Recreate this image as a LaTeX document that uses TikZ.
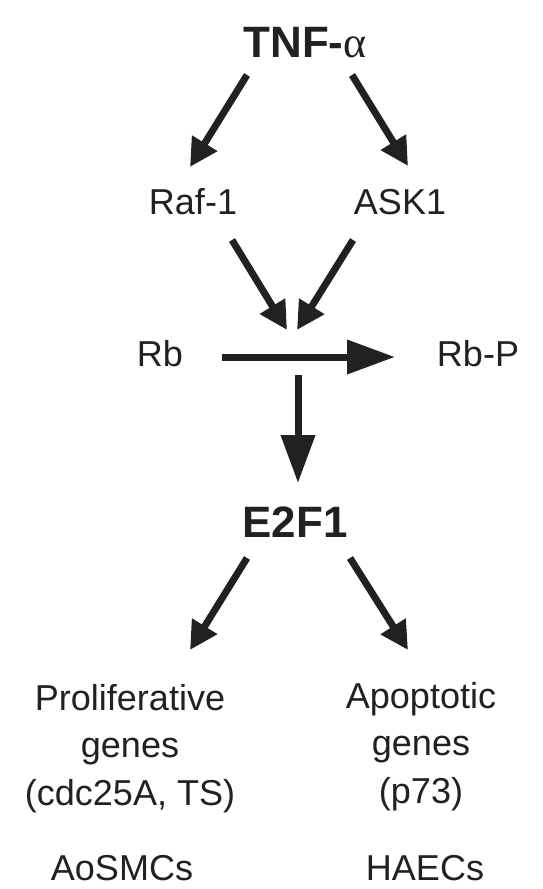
\documentclass[tikz,border=0pt]{standalone}
\usepackage{fontspec}
\setmainfont{Liberation Sans}
\newfontfamily\greekfont{Liberation Serif}
\usetikzlibrary{arrows.meta,calc}
\definecolor{ink}{gray}{0.13}

\begin{document}
\begin{tikzpicture}[x=0.02cm,y=-0.02cm,
    lbl/.style={anchor=base,inner sep=0pt,text=ink,font=\fontsize{20.5}{27}\selectfont},
    bold lbl/.style={lbl,font=\fontsize{25}{30}\selectfont\bfseries},
    genes/.style={lbl,anchor=north,align=center},
    arr/.style={draw=ink,line width=0.14cm,-{Triangle[length=0.56cm,width=0.56cm]}},
    long arr/.style={arr,-{Triangle[length=0.96cm,width=0.66cm]}}]
  \useasboundingbox (0,0) rectangle (543,889);

  \node[bold lbl] (tnf) at (305,57) {TNF-{\greekfont\mdseries α}};
  \node[lbl] (raf) at (193,214) {Raf-1};
  \node[lbl] (ask) at (400,214) {ASK1};
  \node[lbl] (rb) at (160,366) {Rb};
  \node[lbl] (rbp) at (478,366) {Rb-P};
  \coordinate (hub) at (292,357);
  \node[bold lbl] (e2f) at (295,537) {E2F1};
  \node[genes] (prolif) at (130,684) {Proliferative\\genes\\(cdc25A, TS)};
  \node[genes] (apop) at (421,682) {Apoptotic\\genes\\(p73)};
  \node[lbl] (aosmc) at (122,880) {AoSMCs};
  \node[lbl] (haec) at (425,880) {HAECs};

  % TNF-alpha to kinases
  \draw[arr] ($(tnf.base)+(-58,18)$) -- ($(raf.base)+(-3,-47)$);
  \draw[arr] ($(tnf.base)+(47,18)$) -- ($(ask.base)+(8,-48)$);

  % kinases onto Rb phosphorylation
  \draw[arr] ($(raf.base)+(39,26)$) -- ($(hub)+(-5,-27)$);
  \draw[arr] ($(ask.base)+(-47,26)$) -- ($(hub)+(5,-27)$);
  \draw[long arr] ($(rb.base)+(62,-9)$) -- ($(rbp.base)+(-83,-9)$);
  \draw[long arr] ($(hub)+(6,18)$) -- ($(e2f.base)+(3,-54)$);

  % E2F1 targets
  \draw[arr] ($(e2f.base)+(-48,21)$) -- ($(prolif.north)+(60,-34)$);
  \draw[arr] ($(e2f.base)+(55,21)$) -- ($(apop.north)+(-13,-32)$);
\end{tikzpicture}
\end{document}
